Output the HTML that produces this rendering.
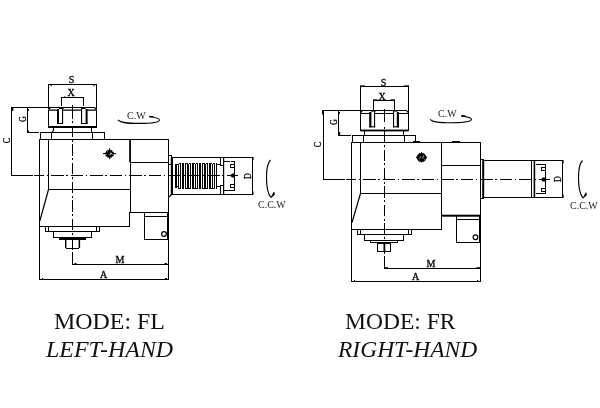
<!DOCTYPE html>
<html lang="en">
<head>
<meta charset="utf-8">
<title>MODE: FL / MODE: FR</title>
<style>
html,body{margin:0;padding:0;background:#fff;}
body{width:600px;height:408px;overflow:hidden;position:relative;font-family:"Liberation Serif",serif;color:#000;}
svg{position:absolute;left:0;top:0;display:block;will-change:transform;}
svg text{font-family:"Liberation Serif",serif;fill:#222;}
svg text.b{fill:#000;stroke:#000;stroke-width:0.3;}
svg text.c{fill:#000;stroke:#000;stroke-width:0.3;}
.l{fill:none;stroke:#000;stroke-width:1;shape-rendering:crispEdges;stroke-linecap:square;}
.d{stroke-linecap:butt;}
.k{fill:#000;stroke:none;}
.s{fill:none;stroke:#000;stroke-width:1.2;}
.cap{position:absolute;white-space:nowrap;font-size:22.5px;line-height:28px;margin:0;transform:scaleX(1.063);transform-origin:0 0;color:#111;}
.cap i{font-style:italic;}
</style>
</head>
<body>
<svg width="600" height="408" viewBox="0 0 600 408">
<path class="l" d="M48.5 108V84.5H96.5V108 M61.5 105V97.5H83.5V105 M94 107.5H11.5V175.5H32.5 M27.5 107.5V132.5H38.5 M48.5 110V126 M96.5 110V126 M53.5 128V130.5 M91.5 128V132.5 M40.5 132.5H104.5V139.5 M40.5 132.5V139.5 M51.5 132.5V139.5 M92.5 132.5V139.5 M39.5 139.5H168.5V279.5H39.5V139.5 M48.5 139.5V189.5H130 M39.5 226.5H129.5V212.5H168.5 M130.5 162.5V212.5 M130 162.5H168.5 M144.5 212.5V239.5H168.5 M144.5 216.5H168.5 M45.5 226.5V231.5H99.5V226.5 M48.5 226.5V231.5 M96.5 226.5V231.5 M53.5 231.5V237.5H91.5V231.5 M65.5 240V247.5 M79.5 240V247.5 M66.5 248.5H78.5 M72.5 240V249 M72.5 252V264.5H168.5 M172 157.5H252.5V194.5H172 M169 155.5H171.5V164H169 M175.5 165V187 M176.5 165V187 M178.5 164V188 M180.5 164V188 M182.5 164V188 M183.5 164V188 M185.5 164V188 M187.5 164V188 M188.5 164V188 M190.5 164V188 M192.5 164V188 M193.5 164V188 M195.5 164V188 M197.5 164V188 M199.5 164V188 M200.5 164V188 M202.5 164V188 M204.5 164V188 M205.5 164V188 M207.5 164V188 M209.5 164V188 M210.5 164V188 M212.5 164V188 M214.5 164V188 M216.5 164V188 M175 164.5H178 M175 186.5H178 M216.5 164.5H220.5 M216.5 186.5H220.5 M220.5 157.5V165.5H223 M220.5 194.5V185.5H223 M224 161.5H229 M231 161.5H234.5V190.5H224 M234.5 164.5H230.5V167.5H234.5 M234.5 184.5H230.5V187.5H234.5 M227 175.5H237"/>
<g class="k"><rect x="59" y="107" width="4.5" height="2"/><rect x="81" y="107" width="4.6" height="2"/><rect x="48" y="126" width="49" height="2"/><rect x="57" y="109" width="2" height="15"/><rect x="62" y="108" width="1.1" height="16"/><rect x="57" y="123" width="6" height="1"/><rect x="81" y="108" width="1.1" height="16"/><rect x="85.6" y="109" width="2" height="15"/><rect x="81" y="123" width="6.6" height="1"/><rect x="129.2" y="139" width="1.8" height="23.5"/><rect x="50.5" y="85" width="1.2" height="1.2"/><rect x="93.5" y="85" width="1.2" height="1.2"/><rect x="64" y="96.3" width="1.2" height="1.2"/><rect x="12" y="107.5" width="1.3" height="3.5"/><rect x="28" y="109" width="1" height="1.8"/><rect x="28" y="130.5" width="1" height="2"/><rect x="74.5" y="263" width="2" height="1.2"/><rect x="164.5" y="263" width="2.5" height="1.2"/><rect x="42" y="278" width="1.2" height="1.5"/><rect x="165" y="278" width="2" height="1.5"/><rect x="252" y="157" width="1.6" height="3"/><rect x="252" y="191.5" width="1.6" height="3"/><rect x="167" y="212" width="2" height="28"/><rect x="59" y="237.5" width="27" height="2.5"/><rect x="65" y="240" width="1.4" height="8"/><rect x="78.6" y="240" width="1.5" height="8"/><rect x="170.8" y="157" width="2.2" height="38"/><rect x="223" y="157" width="1.2" height="38"/><path d="M230 175.5L232 173.5H234.5V177.5H232Z"/></g>
<path class="s" style="stroke-width:1.3" d="M48.5 110.2H57 M63 110.2H81 M87 110.2H96.5"/>
<path class="s" d="M50.5 107.5L48.5 109.5M94.5 107.5L96.5 109.5"/>
<path class="s" d="M53.5 130.5L52 132.5"/>
<path class="s" d="M48.5 189.5L39.8 221"/>
<circle class="s" cx="164" cy="234" r="2.4"/>
<path class="s" d="M171.5 194.5L169 197"/>
<path class="l d" stroke-dasharray="2.4 1" d="M178.5 163.5H216.5 M178.5 188.5H216.5"/>
<path class="l" d="M360.5 112V86.5H408.5V112 M373.5 109V100.5H394.5V109 M362 110.5H323.5V179.5H344.5 M338.5 110.5V135.5H350 M360.5 113V130 M408.5 113V130 M362 110.5H406 M360.5 113.5H369 M375 113.5H393 M399 113.5H408.5 M364.5 131V135.5 M403.5 131V135.5 M352.5 135.5H415.5V142.5 M352.5 135.5V142.5 M363.5 135.5V142.5 M404.5 135.5V142.5 M351.5 142.5H480.5V281.5H351.5V142.5 M360.5 142.5V193.5H441.5 M351.5 229.5H441.5V142.5 M441.5 165.5H480.5 M456.5 215.5V242.5H480.5 M456.5 219.5H480.5 M357.5 229.5V234.5H411.5V229.5 M360.5 229.5V234.5 M408.5 229.5V234.5 M364.5 234.5V240.5H403.5V234.5 M370.5 240.5V242.5H397.5V240.5 M377.5 243.5V251.5H390.5V243.5H377.5 M384.5 252V253 M384.5 256V268.5H480.5 M483 160.5H562.5V197.5H483 M480.5 159.5H483 M480.5 198.5H483 M531.5 160.5V197.5 M536 164.5H545.5V193.5H536 M545.5 167.5H541.5V170.5H545.5 M545.5 188.5H541.5V191.5H545.5 M539 179.5H549"/>
<g class="k"><rect x="360.5" y="129.6" width="48" height="1.8"/><rect x="369.2" y="112" width="2.2" height="15.5"/><rect x="374" y="111" width="1.1" height="16.5"/><rect x="369.2" y="126.2" width="6" height="1.1"/><rect x="393" y="111" width="1.1" height="16.5"/><rect x="396.8" y="112" width="2.2" height="15.5"/><rect x="393" y="126.2" width="6" height="1.1"/><rect x="371" y="110" width="4.5" height="1.6"/><rect x="393" y="110" width="4.5" height="1.6"/><rect x="441" y="214.7" width="40" height="2"/><rect x="413" y="141" width="7" height="1.5"/><rect x="452" y="141" width="8" height="1.5"/><rect x="360" y="85.4" width="5" height="1.4"/><rect x="404" y="85.4" width="5" height="1.4"/><rect x="373" y="99.4" width="4.5" height="1.4"/><rect x="390.5" y="99.4" width="4.5" height="1.4"/><rect x="322" y="110" width="1.5" height="4.5"/><rect x="339" y="112" width="1" height="1.8"/><rect x="339" y="132" width="1.2" height="3.5"/><rect x="384" y="267.2" width="4" height="1.4"/><rect x="476.5" y="267.2" width="4" height="1.4"/><rect x="354" y="280" width="1.2" height="1.5"/><rect x="477" y="280" width="1.2" height="1.5"/><rect x="562" y="160" width="1.6" height="3.5"/><rect x="562" y="194.5" width="1.6" height="3.5"/><rect x="479" y="215" width="2" height="28"/><rect x="383.5" y="243" width="1.8" height="9"/><rect x="482.2" y="160" width="2" height="38"/><rect x="533.6" y="160" width="1.6" height="38"/><path d="M541 179.5L542.5 177.5H545.5V181.5H542.5Z"/></g>
<path class="s" d="M362.5 110.5L360.5 113M406.5 110.5L408.5 113"/>
<path class="s" d="M360.5 193.5L352 222.5"/>
<circle class="s" cx="475.5" cy="237.3" r="2.4"/>
<path class="l d" stroke-dasharray="12.5 2.7 1.6 2.7" stroke-dashoffset="2.5" d="M34 175.5H237"/>
<path class="l d" stroke-dasharray="11.3 2.6 2.1 2.6" d="M72.5 107.2V250"/>
<path class="l d" d="M72.5 105V108M384.5 109V121.5"/>
<path class="l d" stroke-dasharray="12.5 2.7 1.6 2.7" stroke-dashoffset="2.5" d="M346 179.5H549"/>
<path class="l d" stroke-dasharray="11.2 2.6 2 2.6" stroke-dashoffset="11.2" d="M384.5 123.9V253"/>
<g transform="translate(109.6 153.6)"><path d="M-6.6 0H6.6M0 -5.5V5.5" stroke="#000" stroke-width="1" fill="none"/><path d="M-2.2 -3.3H2.2L3.8 -1.2V1.6L2 3.7H-2L-3.8 1.6V-1.2Z" fill="#000" stroke="#000" stroke-width="0.6" stroke-linejoin="round"/><path d="M0.2 0.9L1.2 -1L2.4 0.4M0.2 0.9H1.6" stroke="#fff" stroke-width="0.7" fill="none"/><circle cx="-2" cy="-2" r="0.45" fill="#fff"/><circle cx="2.9" cy="-2" r="0.45" fill="#fff"/><circle cx="-2.9" cy="0.8" r="0.45" fill="#fff"/><circle cx="2.9" cy="0.8" r="0.4" fill="#fff"/></g>
<g transform="translate(421.6 157.4)"><path d="M-5.6 0H5.6M0 -5.4V5" stroke="#000" stroke-width="1" fill="none"/><path d="M-2.4 -3.8H2.4L4.4 -1.4V1.6L2.4 4.2H-2.4L-4.4 1.6V-1.4Z" fill="#000" stroke="#000" stroke-width="0.6" stroke-linejoin="round"/><path d="M-1.9 1.2L-1 -1M1.1 1.2L1.9 -1.8" stroke="#fff" stroke-width="0.7" fill="none"/><circle cx="2.9" cy="2.2" r="0.4" fill="#fff"/></g>
<path class="s" style="stroke-width:1.15" d="M118 120c3 3 9 3.4 21 3.4c12 0 20.4 -1.2 20.4 -3.4c0 -1.6 -4 -2.6 -10 -3.2"/><path d="M149 116l4.5 0l0 1.4l-4.5 -0.4z" fill="#000"/>
<path class="s" style="stroke-width:1.15" d="M430 119.3c3 3 9 3.4 21 3.4c12 0 20.4 -1.2 20.4 -3.4c0 -1.6 -4 -2.6 -10 -3.2"/><path d="M461 115.3l4.5 0l0 1.4l-4.5 -0.4z" fill="#000"/>
<path class="s" style="stroke-width:1.15" d="M270.5 160c-2.8 3 -4 9 -4 17c0 8 0.6 16 4.4 20.4"/><path d="M271.1 197.6l2.8 -5.4l0.6 2.4z" fill="#000" stroke="#000" stroke-width="0.8"/>
<path class="s" style="stroke-width:1.15" d="M582.5 160.5c-2.8 3 -4 9 -4 17c0 8 0.6 16 4.4 20.4"/><path d="M583.1 198.1l2.8 -5.4l0.6 2.4z" fill="#000" stroke="#000" stroke-width="0.8"/>
<text x="71.5" y="82.5" font-size="10" text-anchor="middle" class="b">S</text>
<text x="71.2" y="95.5" font-size="10" text-anchor="middle" class="b">X</text>
<text x="383.5" y="85.6" font-size="10" text-anchor="middle" class="b">S</text>
<text x="382" y="100" font-size="10" text-anchor="middle" class="b">X</text>
<text x="127" y="119" font-size="10" text-anchor="start" >C.W</text>
<text x="438" y="117" font-size="10" text-anchor="start" >C.W</text>
<text x="258" y="207.8" font-size="10" text-anchor="start" >C.C.W</text>
<text x="570" y="208.8" font-size="10" text-anchor="start" >C.C.W</text>
<text x="120" y="263" font-size="10" text-anchor="middle" class="b">M</text>
<text x="103.7" y="278" font-size="10" text-anchor="middle" class="b">A</text>
<text x="431" y="267" font-size="10" text-anchor="middle" class="b">M</text>
<text x="415.5" y="279.8" font-size="10" text-anchor="middle" class="b">A</text>
<text transform="translate(10 140.5) rotate(-90) scale(0.8 1.05)" font-size="10" text-anchor="middle" class="c">C</text>
<text transform="translate(26.2 119) rotate(-90) scale(0.8 1.05)" font-size="10" text-anchor="middle" class="c">G</text>
<text transform="translate(251.2 176) rotate(-90) scale(0.8 1.05)" font-size="10" text-anchor="middle" class="c">D</text>
<text transform="translate(321.3 144.5) rotate(-90) scale(0.8 1.05)" font-size="10" text-anchor="middle" class="c">C</text>
<text transform="translate(337 122) rotate(-90) scale(0.8 1.05)" font-size="10" text-anchor="middle" class="c">G</text>
<text transform="translate(561 179.2) rotate(-90) scale(0.8 1.05)" font-size="10" text-anchor="middle" class="c">D</text>
</svg>
<p class="cap" style="left:53.5px;top:308px;">MODE: FL</p>
<p class="cap" style="left:45.5px;top:336px;"><i>LEFT-HAND</i></p>
<p class="cap" style="left:344.5px;top:308px;transform:scaleX(1.046);">MODE: FR</p>
<p class="cap" style="left:338.2px;top:336px;transform:scaleX(1.044);"><i>RIGHT-HAND</i></p>
</body>
</html>
